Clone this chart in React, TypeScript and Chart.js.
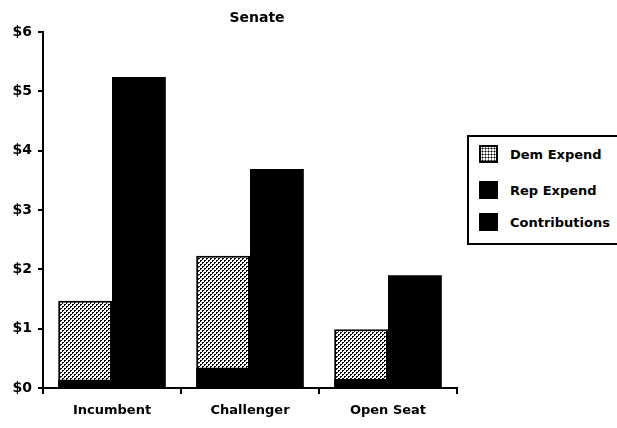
import React, { useEffect, useRef } from "react";
import Chart from "chart.js/auto";

const categories = ["Incumbent", "Challenger", "Open Seat"];
const demExpend = [1.47, 2.23, 0.99];
const repExpend = [5.24, 3.69, 1.9];
const contributions = [0.14, 0.34, 0.15];
const legendLabels = ["Dem Expend", "Rep Expend", "Contributions"];
const titleText = "Senate";

const FONT = "'DejaVu Sans', sans-serif";

function makePattern(): CanvasPattern | string {
  const c = document.createElement("canvas");
  c.width = 4;
  c.height = 4;
  const g = c.getContext("2d");
  if (!g) return "#888";
  g.fillStyle = "#fff";
  g.fillRect(0, 0, 4, 4);
  g.fillStyle = "#000";
  g.fillRect(0, 0, 2, 2);
  g.fillRect(2, 2, 2, 2);
  g.fillStyle = "#fff";
  g.fillRect(1, 1, 1, 1);
  g.fillRect(3, 3, 1, 1);
  return g.createPattern(c, "repeat") || "#888";
}

export default function App() {
  const ref = useRef<HTMLCanvasElement | null>(null);

  useEffect(() => {
    if (!ref.current) return;
    const pattern = makePattern();
    const chart = new Chart(ref.current, {
      type: "bar",
      data: {
        labels: categories,
        datasets: [
          {
            label: legendLabels[2],
            data: contributions,
            backgroundColor: "#000",
            borderWidth: 0,
            stack: "dem",
          },
          {
            label: legendLabels[0],
            data: demExpend,
            backgroundColor: pattern as any,
            borderColor: "#000",
            borderWidth: 2,
            stack: "dem",
          },
          {
            label: legendLabels[1],
            data: repExpend,
            backgroundColor: "#000",
            borderWidth: 0,
            stack: "rep",
          },
        ],
      },
      options: {
        animation: false,
        responsive: true,
        maintainAspectRatio: false,
        datasets: { bar: { categoryPercentage: 0.78, barPercentage: 1 } },
        layout: { padding: { top: 32, right: 160, left: 0, bottom: 0 } },
        plugins: {
          legend: { display: false },
          tooltip: { enabled: false },
          title: { display: false },
        },
        scales: {
          x: {
            stacked: true,
            afterFit: (s: any) => {
              s.height = 40;
            },
            grid: {
              display: true,
              drawOnChartArea: false,
              drawTicks: true,
              tickLength: 6,
              color: "#000",
              lineWidth: 2,
            },
            border: { display: true, color: "#000", width: 2 },
            ticks: {
              color: "#000",
              padding: 9,
              font: { family: FONT, size: 13, weight: "bold" },
            },
          },
          y: {
            stacked: false,
            min: 0,
            max: 6,
            afterFit: (s: any) => {
              s.width = 43;
            },
            grid: {
              display: true,
              drawOnChartArea: false,
              drawTicks: true,
              tickLength: 5,
              color: "#000",
              lineWidth: 2,
            },
            border: { display: true, color: "#000", width: 2 },
            ticks: {
              stepSize: 1,
              color: "#000",
              padding: 6,
              font: { family: FONT, size: 14, weight: "bold" },
              callback: (v: any) => "$" + v,
            },
          },
        },
      },
    });
    return () => chart.destroy();
  }, []);

  const rowStyle: React.CSSProperties = {
    position: "absolute",
    left: 10,
    display: "flex",
    alignItems: "center",
    fontFamily: FONT,
    fontWeight: "bold",
    fontSize: 13,
    color: "#000",
    whiteSpace: "nowrap",
  };
  const swatch: React.CSSProperties = {
    width: 19,
    height: 18,
    boxSizing: "border-box",
    marginRight: 12,
    background: "#000",
  };

  return (
    <div
      style={{
        position: "absolute",
        left: 0,
        top: 0,
        width: 617,
        height: 428,
        overflow: "hidden",
        background: "#fff",
      }}
    >
      <canvas ref={ref} width={617} height={428} />
      <div
        style={{
          position: "absolute",
          left: 207,
          width: 100,
          top: 9,
          textAlign: "center",
          fontFamily: FONT,
          fontWeight: "bold",
          fontSize: 14,
          color: "#000",
        }}
      >
        {titleText}
      </div>
      <div
        style={{
          position: "absolute",
          left: 467,
          top: 135,
          width: 170,
          height: 110,
          boxSizing: "border-box",
          border: "2px solid #000",
          background: "#fff",
        }}
      >
        <div style={{ ...rowStyle, top: 8 }}>
          <div
            style={{
              ...swatch,
              border: "2px solid #000",
              backgroundColor: "#fff",
              backgroundImage: "radial-gradient(#000 0.9px, #fff 1.1px)",
              backgroundSize: "3px 3px",
            }}
          />
          <span>{legendLabels[0]}</span>
        </div>
        <div style={{ ...rowStyle, top: 44 }}>
          <div style={swatch} />
          <span>{legendLabels[1]}</span>
        </div>
        <div style={{ ...rowStyle, top: 76 }}>
          <div style={swatch} />
          <span>{legendLabels[2]}</span>
        </div>
      </div>
    </div>
  );
}
